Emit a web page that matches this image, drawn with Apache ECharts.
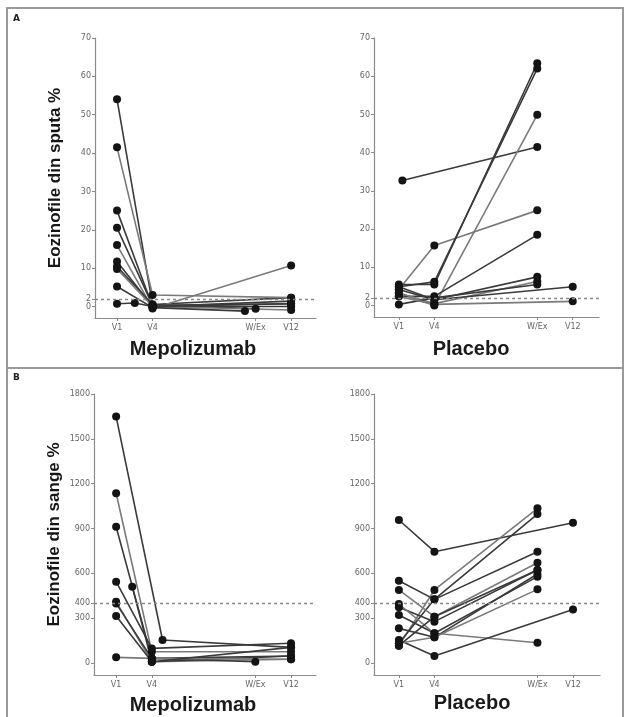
<!DOCTYPE html>
<html>
<head>
<meta charset="utf-8">
<script src="https://cdn.jsdelivr.net/npm/echarts@6/dist/echarts.min.js"></script>
<style>
  html, body { margin: 0; padding: 0; background: #fff; }
  #chart { width: 624px; height: 717px; }
</style>
</head>
<body>
<div id="chart"></div>
<script>
// visits on the x axis (W/Ex sits further out, as in the figure)
var visits = ['V1', 'V4', 'W/Ex', 'V12'];
var visitPos = [1, 2, 4.9, 5.9];

var sputumTicks = [0, 2, 10, 20, 30, 40, 50, 60, 70];
var bloodTicks = [0, 300, 400, 600, 900, 1200, 1500, 1800];
var sputumCut = 2;
var bloodCut = 400;

// one entry per patient: [visit, value]  (a number instead of a visit = off-visit point)
var sputumMepo = [
    [['V1', 54], ['V4', 0.5], ['V12', 2.3]],
    [['V1', 41.5], ['V4', 3.0], ['V12', 2.3]],
    [['V1', 25], ['V4', 0], ['V12', 1.4]],
    [['V1', 20.5], ['V4', 0.3], ['V12', 0.7]],
    [['V1', 16], ['V4', -0.5], ['V12', 10.7]],
    [['V1', 11.7], ['V4', 0], ['V12', 0]],
    [['V1', 10.4], ['V4', 0.5], ['W/Ex', -0.6]],
    [['V1', 9.8], ['V4', 0], ['V12', -0.9]],
    [['V1', 5.2], ['V4', -0.3], [4.6, -1.2]],
    [['V1', 0.7], [1.5, 0.9], ['V4', 0], ['V12', 0.7]]
];

var sputumPlacebo = [
    [[1.1, 32.7], ['W/Ex', 41.5]],
    [['V1', 4.2], ['V4', 15.7], ['W/Ex', 24.9]],
    [['V1', 5.5], ['V4', 5.5], ['W/Ex', 63.4]],
    [['V1', 4.9], ['V4', 6.2], ['W/Ex', 62]],
    [['V1', 3.3], ['V4', 0], ['W/Ex', 49.9]],
    [['V1', 2.4], ['V4', 2.4], ['W/Ex', 18.5]],
    [['V1', 4.2], ['V4', 1.5], ['W/Ex', 7.5]],
    [['V1', 3.3], ['V4', 0.5], ['W/Ex', 6.3]],
    [['V1', 0.3], ['V4', 2.0], ['W/Ex', 5.5]],
    [['V1', 4.9], ['V4', 1.5], ['V12', 4.9]],
    [['V1', 2.4], ['V4', 0.3], ['V12', 1.1]]
];

var bloodMepo = [
    [['V1', 1649], [2.3, 154], ['V12', 105]],
    [['V1', 1136], ['V4', 76], ['V12', 76]],
    [['V1', 912], ['V4', 31], ['V12', 47]],
    [['V1', 544], ['V4', 98], ['V12', 132]],
    [['V1', 410], ['V4', 9], ['V12', 25]],
    [['V1', 399], ['V4', 31], ['W/Ex', 9]],
    [['V1', 315], ['V4', 9], ['V12', 47]],
    [['V1', 38], ['V4', 31], ['V12', 25]],
    [[1.45, 511], ['V4', 9], ['V12', 105]]
];

var bloodPlacebo = [
    [['V1', 957], ['V4', 745], ['V12', 939]],
    [['V1', 116], ['V4', 489], ['W/Ex', 1035]],
    [['V1', 132], ['V4', 426], ['W/Ex', 997]],
    [['V1', 551], ['V4', 426], ['W/Ex', 745]],
    [['V1', 489], ['V4', 310], ['W/Ex', 671]],
    [['V1', 373], ['V4', 277], ['W/Ex', 622]],
    [['V1', 321], ['V4', 199], ['W/Ex', 578]],
    [['V1', 395], ['V4', 199], ['W/Ex', 136]],
    [['V1', 154], ['V4', 47], ['V12', 359]],
    [['V1', 232], ['V4', 172], ['W/Ex', 596]],
    [['V1', 132], ['V4', 172], ['W/Ex', 493]],
    [['V1', 116], ['V4', 310], ['W/Ex', 622]]
];

var chart = echarts.init(document.getElementById('chart'));

function xPos(v) {
    return typeof v === 'string' ? visitPos[visits.indexOf(v)] : v;
}

function visitLabel(val) {
    for (var i = 0; i < visitPos.length; i++) {
        if (Math.abs(visitPos[i] - val) < 0.01) return visits[i];
    }
    return '';
}

var axisColor = '#8a8a8a';
var labelStyle = { fontSize: 8, color: '#666', fontFamily: 'DejaVu Sans' };

function makeX(idx, min, max) {
    return {
        gridIndex: idx, type: 'value', min: min, max: max,
        splitLine: { show: false },
        axisLine: { show: true, onZero: false, lineStyle: { color: axisColor, width: 1.2 } },
        axisTick: { show: true, length: 3, customValues: visitPos, lineStyle: { color: axisColor } },
        axisLabel: Object.assign({ customValues: visitPos, margin: 6, hideOverlap: false, formatter: visitLabel }, labelStyle)
    };
}

function makeY(idx, min, max, ticks, labels, name) {
    return {
        gridIndex: idx, type: 'value', position: 'left', min: min, max: max,
        splitLine: { show: false },
        axisLine: { show: true, onZero: false, lineStyle: { color: axisColor, width: 1.2 } },
        axisTick: { show: true, length: 3, customValues: ticks, lineStyle: { color: axisColor } },
        axisLabel: Object.assign({
            customValues: labels, margin: 4, hideOverlap: false,
            formatter: function (v) { return String(v); }
        }, labelStyle),
        name: name || '',
        nameLocation: 'middle',
        nameGap: 31,
        nameTextStyle: { fontSize: 17, fontWeight: 'bold', color: '#161616', fontFamily: 'Liberation Sans' }
    };
}

// extra axis only carrying the "0" label (it sits too close to "2" for one axis)
function zeroAxis(idx) {
    return {
        gridIndex: idx, type: 'value', position: 'left', offset: 0, min: -3, max: 70,
        splitLine: { show: false },
        axisLine: { show: false, onZero: false },
        axisTick: { show: false },
        axisLabel: Object.assign({ customValues: [sputumTicks[0]], margin: 4 }, labelStyle)
    };
}

var series = [];
function addPanel(patients, idx, cut) {
    patients.forEach(function (p, i) {
        series.push({
            type: 'line',
            xAxisIndex: idx, yAxisIndex: idx,
            data: p.map(function (pt) { return [xPos(pt[0]), pt[1]]; }),
            symbol: 'circle', symbolSize: 8,
            itemStyle: { color: '#141414' },
            lineStyle: { color: i % 3 === 1 ? '#7a7a7a' : '#3a3a3a', width: 1.6 },
            silent: true,
            z: 3
        });
    });
    // dashed cut-off line
    series.push({
        type: 'line', xAxisIndex: idx, yAxisIndex: idx, data: [], silent: true,
        markLine: {
            symbol: 'none', silent: true, label: { show: false },
            lineStyle: { color: '#888', type: [3, 3], width: 1.4 },
            data: [{ yAxis: cut }]
        }
    });
}
addPanel(sputumMepo, 0, sputumCut);
addPanel(sputumPlacebo, 1, sputumCut);
addPanel(bloodMepo, 2, bloodCut);
addPanel(bloodPlacebo, 3, bloodCut);

function heading(text, x, y) {
    return {
        type: 'text', x: x, y: y,
        style: {
            text: text, fill: '#1a1a1a',
            font: 'bold 20px "Liberation Sans"',
            align: 'center', verticalAlign: 'middle',
            textAlign: 'center', textVerticalAlign: 'middle'
        }
    };
}

var sputumLabels = sputumTicks.slice(1);

var option = {
    animation: false,
    backgroundColor: '#fff',
    grid: [
        { left: 95, top: 38, width: 221, height: 280 },
        { left: 374, top: 38, width: 225, height: 279 },
        { left: 94, top: 394, width: 222, height: 281 },
        { left: 374, top: 394, width: 226, height: 281 }
    ],
    xAxis: [
        makeX(0, 0.38, 6.6),
        makeX(1, 0.3, 6.64),
        makeX(2, 0.38, 6.6),
        makeX(3, 0.3, 6.66)
    ],
    yAxis: [
        makeY(0, -3, 70, sputumTicks, sputumLabels, 'Eozinofile din sputa %'),
        makeY(1, -3, 70, sputumTicks, sputumLabels),
        makeY(2, -80, 1800, bloodTicks, bloodTicks, 'Eozinofile din sange %'),
        makeY(3, -80, 1800, bloodTicks, bloodTicks),
        zeroAxis(0),
        zeroAxis(1)
    ],
    graphic: [
        { type: 'rect', shape: { x: 7, y: 8, width: 616, height: 714 }, style: { fill: 'none', stroke: '#9a9a9a', lineWidth: 2 } },
        { type: 'line', shape: { x1: 7, y1: 368, x2: 624, y2: 368 }, style: { stroke: '#9a9a9a', lineWidth: 2 } },
        { type: 'text', x: 13, y: 14, style: { text: 'A', fill: '#222', font: 'bold 9px "DejaVu Sans"' } },
        { type: 'text', x: 13, y: 373, style: { text: 'B', fill: '#222', font: 'bold 9px "DejaVu Sans"' } },
        heading('Mepolizumab', 193, 349),
        heading('Placebo', 471, 349),
        heading('Mepolizumab', 193, 705),
        heading('Placebo', 472, 703)
    ],
    series: series
};

chart.setOption(option);
</script>
</body>
</html>
